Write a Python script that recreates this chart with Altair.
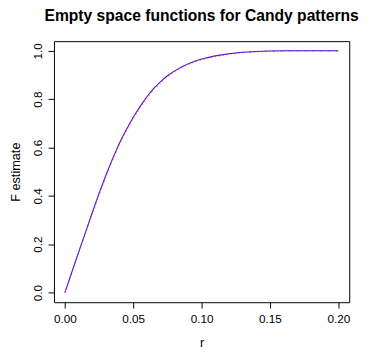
import altair as alt
import pandas as pd

r_vals = [0.0, 0.005, 0.01, 0.015, 0.02, 0.025, 0.03, 0.035, 0.04, 0.045, 0.05,
          0.055, 0.06, 0.065, 0.07, 0.075, 0.08, 0.085, 0.09, 0.095, 0.10,
          0.11, 0.12, 0.13, 0.14, 0.15, 0.16, 0.18, 0.20]
f_main = [0.0, 0.083, 0.166, 0.248, 0.33, 0.41, 0.485, 0.555, 0.62, 0.675, 0.725,
          0.77, 0.81, 0.845, 0.873, 0.897, 0.916, 0.932, 0.946, 0.957, 0.966,
          0.979, 0.988, 0.994, 0.997, 0.999, 1.0, 1.0, 1.0]
f_dot = [0.0, 0.081, 0.163, 0.243, 0.324, 0.403, 0.477, 0.547, 0.612, 0.667, 0.717,
         0.762, 0.802, 0.838, 0.866, 0.891, 0.910, 0.927, 0.941, 0.953, 0.962,
         0.975, 0.985, 0.991, 0.995, 0.997, 0.999, 1.0, 1.0]

x_ticks = [0.0, 0.05, 0.10, 0.15, 0.20]
y_ticks = [0.0, 0.2, 0.4, 0.6, 0.8, 1.0]

df = pd.DataFrame({"r": r_vals, "main": f_main, "dot": f_dot})

FONT = "Liberation Sans"

x_enc = alt.X("r:Q", scale=alt.Scale(domain=[-0.008, 0.208], nice=False, zero=False),
              axis=alt.Axis(values=x_ticks, format=".2f", title="r",
                            labelPadding=6, titlePadding=12))
y_scale = alt.Scale(domain=[-0.04, 1.04], nice=False, zero=False)
y_axis = alt.Axis(values=y_ticks, format=".1f", title="F estimate",
                  labelAngle=270, labelAlign="center", labelBaseline="alphabetic",
                  labelPadding=7, titlePadding=9)

base = alt.Chart(df)
line_main = base.mark_line(color="#2a1aff", strokeWidth=1.1, clip=True).encode(
    x=x_enc, y=alt.Y("main:Q", scale=y_scale, axis=y_axis))
line_red = base.mark_line(color="#ff2020", strokeWidth=1.0, strokeDash=[4, 4],
                          opacity=0.6, clip=True).encode(
    x="r:Q", y="main:Q")
line_dot = base.mark_line(color="#ff4040", strokeWidth=1.0, strokeDash=[1, 3],
                          opacity=0.8, clip=True).encode(
    x="r:Q", y="dot:Q")

chart = alt.layer(line_dot, line_main, line_red).properties(
    width=302, height=267,
    autosize=alt.AutoSizeParams(type="none"),
    padding={"left": 47, "top": 30, "right": 11, "bottom": 47},
    title=alt.TitleParams("Empty space functions for Candy patterns",
                          font=FONT, fontSize=16, fontWeight="bold",
                          anchor="middle", baseline="alphabetic", offset=5,
                          color="black", frame="group"),
).configure_view(stroke="black", strokeWidth=1).configure_axis(
    domain=False, grid=False, ticks=True, tickColor="black", tickSize=6,
    labelFont=FONT, labelFontSize=12, labelColor="black",
    titleFont=FONT, titleFontSize=13, titleColor="black", titleFontWeight="normal",
)

chart.save("out.html", embed_options={"renderer": "svg", "actions": False})
